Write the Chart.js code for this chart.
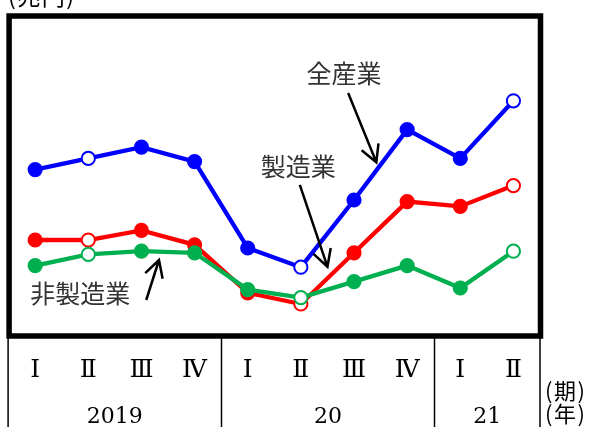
<!DOCTYPE html>
<html>
<head>
<meta charset="utf-8">
<script src="https://cdn.jsdelivr.net/npm/chart.js@4.4.1/dist/chart.umd.min.js"></script>
<style>
  html, body { margin: 0; padding: 0; background: #fff; }
</style>
</head>
<body>
<canvas id="profitChart" width="590" height="427"></canvas>
<script>
const quarters = ["Ⅰ", "Ⅱ", "Ⅲ", "Ⅳ", "Ⅰ", "Ⅱ", "Ⅲ", "Ⅳ", "Ⅰ", "Ⅱ"];
const years = ["2019", "20", "21"];
const quartersPerYear = [4, 4, 2];

// 兆円
const allIndustry = [14.4, 15.1, 15.8, 14.9, 9.5, 8.3, 12.5, 16.9, 15.1, 18.7];
const manufacturing = [10.0, 10.0, 10.6, 9.7, 6.7, 6.0, 9.2, 12.4, 12.1, 13.4];
const nonManufacturing = [8.4, 9.1, 9.3, 9.2, 6.9, 6.4, 7.4, 8.4, 7.0, 9.3];

// quarters shown with open markers
const openPoints = [1, 5, 9];

// series names with arrows, placed in data units (x = quarter index, y = 兆円)
const callouts = [
  { text: "全産業", at: [5.81, 20.38], from: [5.89, 19.19], to: [6.42, 14.86] },
  { text: "製造業", at: [4.95, 14.58], from: [4.98, 13.44], to: [5.50, 8.33] },
  { text: "非製造業", at: [0.85, 6.67], from: [2.09, 6.25], to: [2.33, 8.75] },
];

const JP_FONT = "'Noto Sans CJK JP', sans-serif";
const SERIF_FONT = "'DejaVu Serif', 'Liberation Serif', 'Noto Sans CJK JP', serif";

function series(label, data, color, order) {
  return {
    label: label,
    data: data,
    borderColor: color,
    borderWidth: 4.3,
    pointRadius: 6.6,
    pointBorderWidth: 2,
    pointBorderColor: color,
    pointBackgroundColor: data.map((v, i) => (openPoints.includes(i) ? "#fff" : color)),
    fill: false,
    tension: 0,
    order: order,
  };
}

function arrow(ctx, x1, y1, x2, y2) {
  const ang = Math.atan2(y2 - y1, x2 - x1);
  const len = 19;
  const spread = 0.5;
  ctx.beginPath();
  ctx.moveTo(x1, y1);
  ctx.lineTo(x2, y2);
  ctx.moveTo(x2 - len * Math.cos(ang - spread), y2 - len * Math.sin(ang - spread));
  ctx.lineTo(x2, y2);
  ctx.lineTo(x2 - len * Math.cos(ang + spread), y2 - len * Math.sin(ang + spread));
  ctx.stroke();
}

// frame, quarter/year table under the plot, unit labels and callouts
const decorations = {
  id: "decorations",
  afterDraw(chart) {
    const ctx = chart.ctx;
    const area = chart.chartArea;
    const xs = chart.scales.x;
    const ys = chart.scales.y;
    const H = chart.height;

    ctx.save();

    // table column lines
    const edges = [area.left - 0.5];
    let k = 0;
    quartersPerYear.forEach((n, i) => {
      k += n;
      if (i < quartersPerYear.length - 1) {
        edges.push(Math.round((xs.getPixelForValue(k - 1) + xs.getPixelForValue(k)) / 2) + 0.5);
      }
    });
    edges.push(area.right);
    ctx.strokeStyle = "#000";
    ctx.lineWidth = 1.5;
    edges.forEach((ex) => {
      ctx.beginPath();
      ctx.moveTo(ex, area.bottom);
      ctx.lineTo(ex, H);
      ctx.stroke();
    });

    // thick frame round the plot
    ctx.lineWidth = 5.5;
    ctx.strokeRect(area.left + 0.5, area.top, area.right - area.left, area.bottom - area.top);

    // quarter numerals
    ctx.fillStyle = "#000";
    ctx.textAlign = "center";
    ctx.textBaseline = "middle";
    ctx.font = "25px " + SERIF_FONT;
    quarters.forEach((q, i) => {
      ctx.fillText(q, xs.getPixelForValue(i), 370);
    });

    // years, centred in their columns
    ctx.font = "22px " + SERIF_FONT;
    years.forEach((y, i) => {
      ctx.fillText(y, (edges[i] + edges[i + 1]) / 2, 417);
    });

    // axis unit labels
    ctx.font = "22px " + JP_FONT;
    ctx.textAlign = "left";
    ctx.letterSpacing = "1.5px";
    ctx.fillText("(期)", 545, 391);
    ctx.fillText("(年)", 545, 414);
    ctx.font = "23px " + JP_FONT;
    ctx.textBaseline = "alphabetic";
    ctx.fillText("(兆円)", 8, 5);
    ctx.letterSpacing = "0px";

    // series callouts
    ctx.fillStyle = "#333";
    ctx.textAlign = "center";
    ctx.textBaseline = "middle";
    ctx.font = "25px " + JP_FONT;
    ctx.strokeStyle = "#000";
    ctx.lineWidth = 2.5;
    callouts.forEach((c) => {
      ctx.fillText(c.text, xs.getPixelForValue(c.at[0]), ys.getPixelForValue(c.at[1]));
      arrow(ctx,
        xs.getPixelForValue(c.from[0]), ys.getPixelForValue(c.from[1]),
        xs.getPixelForValue(c.to[0]), ys.getPixelForValue(c.to[1]));
    });

    ctx.restore();
  },
};

new Chart(document.getElementById("profitChart"), {
  type: "line",
  data: {
    labels: quarters.map((q, i) => i),
    datasets: [
      series("全産業", allIndustry, "#0000ff", 3),
      series("製造業", manufacturing, "#ff0000", 2),
      series("非製造業", nonManufacturing, "#00b050", 1),
    ],
  },
  options: {
    responsive: false,
    animation: false,
    devicePixelRatio: 1,
    layout: { padding: { left: 8, right: 50, top: 16, bottom: 91 } },
    plugins: { legend: { display: false }, tooltip: { enabled: false } },
    scales: {
      x: { type: "category", offset: true, display: false },
      y: { min: 4, max: 24, display: false },
    },
  },
  plugins: [decorations],
});
</script>
</body>
</html>
